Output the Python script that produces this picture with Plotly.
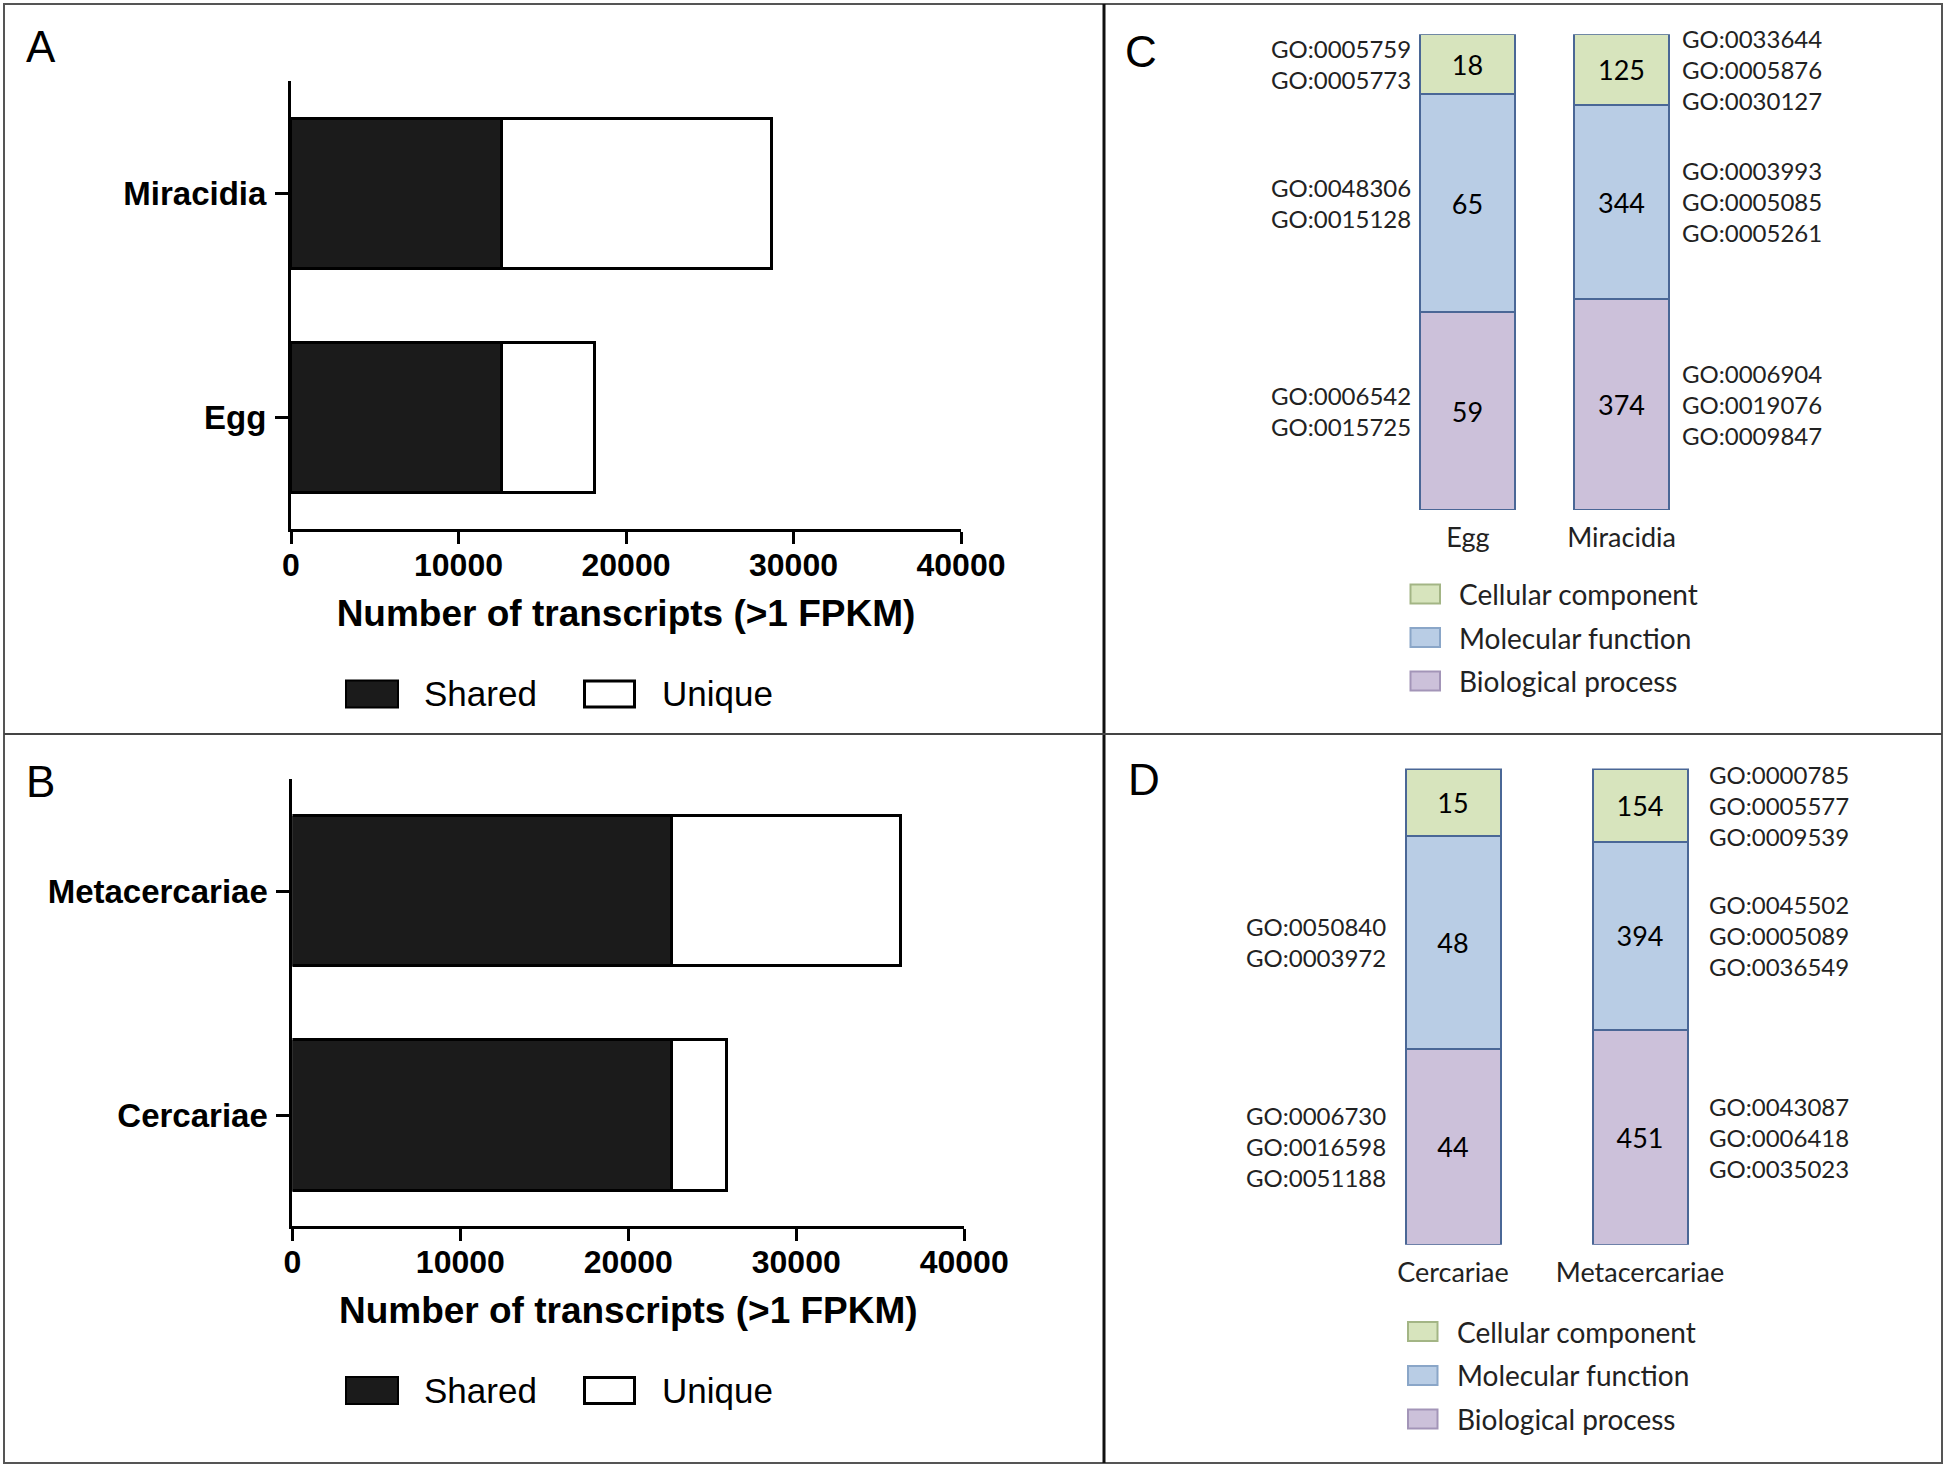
import plotly.graph_objects as go

W, H = 1946, 1467


def X(px):
    return px / W


def Y(py):
    return 1 - py / H


# ---------------- data ----------------
# Panel A
a_stages = ["Egg", "Miracidia"]
a_shared = [12590, 12590]
a_unique = [5570, 16120]
# Panel B
b_stages = ["Cercariae", "Metacercariae"]
b_shared = [22630, 22630]
b_unique = [3290, 13620]
x_tickvals = [0, 10000, 20000, 30000, 40000]
x_title = "Number of transcripts (>1 FPKM)"
ab_legend = ["Shared", "Unique"]

# GO categories (bottom to top)
go_categories = ["Biological process", "Molecular function", "Cellular component"]

# Panel C
c_stages = ["Egg", "Miracidia"]
c_bp = [59, 374]
c_mf = [65, 344]
c_cc = [18, 125]
c_egg_bp_go = ["GO:0006542", "GO:0015725"]
c_egg_mf_go = ["GO:0048306", "GO:0015128"]
c_egg_cc_go = ["GO:0005759", "GO:0005773"]
c_mir_bp_go = ["GO:0006904", "GO:0019076", "GO:0009847"]
c_mir_mf_go = ["GO:0003993", "GO:0005085", "GO:0005261"]
c_mir_cc_go = ["GO:0033644", "GO:0005876", "GO:0030127"]

# Panel D
d_stages = ["Cercariae", "Metacercariae"]
d_bp = [44, 451]
d_mf = [48, 394]
d_cc = [15, 154]
d_cer_bp_go = ["GO:0006730", "GO:0016598", "GO:0051188"]
d_cer_mf_go = ["GO:0050840", "GO:0003972"]
d_cer_cc_go = []
d_met_bp_go = ["GO:0043087", "GO:0006418", "GO:0035023"]
d_met_mf_go = ["GO:0045502", "GO:0005089", "GO:0036549"]
d_met_cc_go = ["GO:0000785", "GO:0005577", "GO:0009539"]

# ---------------- styles ----------------
ARIAL = "Liberation Sans, Arial, sans-serif"
CALI = "Lato, Carlito, Calibri, sans-serif"
SHARED_COL = "#1b1b1b"
GO_COLORS = ["#ccc1da", "#b9cde5", "#d7e4bd"]
GO_BORDERS = ["#a395b8", "#8aa6c8", "#a3b585"]
SEG_LINE = "#4a6796"

fig = go.Figure()

# ---- A & B horizontal stacked bars ----
for stages, shared, unique, xa, ya in [
    (a_stages, a_shared, a_unique, "x", "y"),
    (b_stages, b_shared, b_unique, "x2", "y2"),
]:
    fig.add_trace(go.Bar(
        y=stages, x=shared, orientation="h", name=ab_legend[0],
        marker=dict(color=SHARED_COL, line=dict(color="black", width=3)),
        width=0.67, xaxis=xa, yaxis=ya, showlegend=False))
    fig.add_trace(go.Bar(
        y=stages, x=unique, orientation="h", name=ab_legend[1],
        marker=dict(color="white", line=dict(color="black", width=3)),
        width=0.67, xaxis=xa, yaxis=ya, showlegend=False))

# ---- C & D 100% stacked bars ----
def pct(parts):
    tot = [sum(v) for v in zip(*parts)]
    return [[v / t * 100 for v, t in zip(p, tot)] for p in parts]

annotations = []

for stages, parts, gos, xa, ya, bw, lx, rx in [
    (c_stages, [c_bp, c_mf, c_cc],
     [[c_egg_bp_go, c_egg_mf_go, c_egg_cc_go], [c_mir_bp_go, c_mir_mf_go, c_mir_cc_go]],
     "x3", "y3", 0.618, 1413, 1680),
    (d_stages, [d_bp, d_mf, d_cc],
     [[d_cer_bp_go, d_cer_mf_go, d_cer_cc_go], [d_met_bp_go, d_met_mf_go, d_met_cc_go]],
     "x4", "y4", 0.511, 1388, 1707),
]:
    P = pct(parts)
    for k in range(3):
        fig.add_trace(go.Bar(
            x=stages, y=P[k], name=go_categories[k],
            text=[str(v) for v in parts[k]], textposition="inside",
            insidetextanchor="middle", textangle=0,
            textfont=dict(family=CALI, size=27, color="black"),
            marker=dict(color=GO_COLORS[k], line=dict(color=SEG_LINE, width=2)),
            width=bw, xaxis=xa, yaxis=ya, showlegend=False))
    # GO term labels centred on each segment
    for si in range(2):
        base = 0
        for k in range(3):
            mid = base + P[k][si] / 2
            base += P[k][si]
            terms = gos[si][k]
            if not terms:
                continue
            annotations.append(dict(
                text="<br>".join(terms), xref="paper", yref=ya,
                x=X(lx if si == 0 else rx), y=mid,
                xanchor="right" if si == 0 else "left", yanchor="middle",
                align="right" if si == 0 else "left", showarrow=False,
                font=dict(family=CALI, size=24, color="#222222")))

# ---------------- axes ----------------
bold_tick = dict(family=ARIAL, size=33, color="black", weight="bold")
common_x = dict(range=[0, 40000], tickvals=x_tickvals, tickformat="d", ticks="outside",
                ticklen=12, tickwidth=3, tickcolor="black", showline=True, linewidth=3,
                linecolor="black", showgrid=False, zeroline=False,
                tickfont=dict(family=ARIAL, size=32, color="black", weight="bold"),
                ticklabelstandoff=-6, automargin=False,
                title=dict(text=x_title, font=dict(family=ARIAL, size=37, color="black",
                                                    weight="bold"), standoff=18))
common_y = dict(ticks="outside", ticklen=13, tickwidth=3, tickcolor="black",
                showline=True, linewidth=3, linecolor="black", showgrid=False,
                zeroline=False, tickfont=bold_tick, type="category", ticklabelstandoff=2,
                automargin=False)
cat_x = dict(range=[-0.5, 1.5], type="category", showline=False, showgrid=False,
             zeroline=False, ticks="", ticklabelstandoff=9, automargin=False,
             tickfont=dict(family=CALI, size=27, color="#222222"))
hid_y = dict(range=[0, 100], visible=False, automargin=False)

fig.update_layout(
    xaxis=dict(domain=[X(291), X(961)], anchor="y", **common_x),
    yaxis=dict(domain=[Y(529), Y(80.6)], anchor="x", range=[-0.5, 1.506], **common_y),
    xaxis2=dict(domain=[X(292.4), X(964.2)], anchor="y2", **common_x),
    yaxis2=dict(domain=[Y(1226), Y(779.4)], anchor="x2", range=[-0.491, 1.501], **common_y),
    xaxis3=dict(domain=[X(1391), X(1698.4)], anchor="y3", **cat_x),
    yaxis3=dict(domain=[Y(510), Y(34.2)], anchor="x3", **hid_y),
    xaxis4=dict(domain=[X(1359.5), X(1733.5)], anchor="y4", **cat_x),
    yaxis4=dict(domain=[Y(1244.7), Y(768.5)], anchor="x4", **hid_y),
)

# ---------------- frame & panel letters ----------------
shapes = [
    dict(type="rect", xref="paper", yref="paper", x0=X(4), x1=X(1942), y0=Y(1463), y1=Y(4),
         line=dict(color="#555555", width=2)),
    dict(type="line", xref="paper", yref="paper", x0=X(1104), x1=X(1104), y0=Y(1463), y1=Y(4),
         line=dict(color="#111111", width=3)),
    dict(type="line", xref="paper", yref="paper", x0=X(4), x1=X(1942), y0=Y(734), y1=Y(734),
         line=dict(color="#444444", width=2)),
]
for letter, cx, cy in [("A", 40.5, 47), ("B", 40.5, 781), ("C", 1141, 51.5), ("D", 1144, 779)]:
    annotations.append(dict(text=letter, xref="paper", yref="paper", x=X(cx), y=Y(cy),
                            xanchor="center", yanchor="middle", showarrow=False,
                            font=dict(family=ARIAL, size=44, color="black")))

# ---------------- legends A & B (drawn) ----------------
for cy in [694, 1390.5]:
    shapes.append(dict(type="rect", xref="paper", yref="paper", x0=X(346), x1=X(398),
                       y0=Y(cy + 13.5), y1=Y(cy - 13.5), fillcolor=SHARED_COL,
                       line=dict(color="black", width=2)))
    shapes.append(dict(type="rect", xref="paper", yref="paper", x0=X(584.5), x1=X(634.5),
                       y0=Y(cy + 13), y1=Y(cy - 13), fillcolor="white",
                       line=dict(color="black", width=3)))
    for txt, lx in [(ab_legend[0], 422), (ab_legend[1], 660)]:
        annotations.append(dict(text=txt, xref="paper", yref="paper", x=X(lx), y=Y(cy),
                                xanchor="left", yanchor="middle", showarrow=False,
                                font=dict(family=ARIAL, size=35, color="black")))

# ---------------- legends C & D (drawn) ----------------
for bx, tx, rows in [(1410.5, 1456.5, [594, 637.5, 681]), (1408, 1454.5, [1331.6, 1375.4, 1419])]:
    for k, cy in zip([2, 1, 0], rows):
        shapes.append(dict(type="rect", xref="paper", yref="paper", x0=X(bx), x1=X(bx + 29.5),
                           y0=Y(cy + 9.5), y1=Y(cy - 9.5), fillcolor=GO_COLORS[k],
                           line=dict(color=GO_BORDERS[k], width=2)))
        annotations.append(dict(text=go_categories[k], xref="paper", yref="paper", x=X(tx),
                                y=Y(cy), xanchor="left", yanchor="middle", showarrow=False,
                                font=dict(family=CALI, size=28, color="#222222")))

fig.update_layout(
    width=W, height=H, autosize=False,
    margin=dict(l=0, r=0, t=0, b=0, pad=0, autoexpand=False),
    paper_bgcolor="white", plot_bgcolor="white",
    barmode="stack", bargap=0,
    shapes=shapes, annotations=annotations, showlegend=False,
)

fig.write_html("out.html", config={"displayModeBar": False, "responsive": False},
               post_script="document.body.style.margin='0';document.body.style.overflow='hidden';")
